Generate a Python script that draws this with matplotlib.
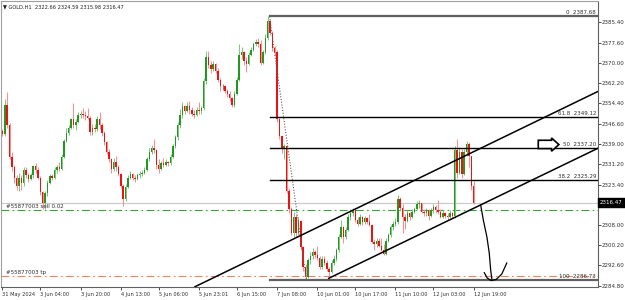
import matplotlib
matplotlib.use("Agg")
import matplotlib.pyplot as plt
from matplotlib import font_manager
from matplotlib.patches import Polygon
from matplotlib.transforms import blended_transform_factory

# MT4 uses a narrow small font, pick the narrowest face we have
faces = [(f.name, f.stretch) for f in font_manager.fontManager.ttflist]
font_name, font_stretch, fs = 'DejaVu Sans', 'normal', 3.7
for name, stretch in faces:
    if name == 'Liberation Sans Narrow':
        font_name, font_stretch, fs = name, 'normal', 5.0
        break
else:
    for name, stretch in faces:
        if name == 'DejaVu Sans' and stretch in ('condensed', 'semi-condensed', 600, 700, 625):
            font_name, font_stretch, fs = name, 'condensed', 4.1
            break
plt.rcParams['font.family'] = [font_name, 'DejaVu Sans']
plt.rcParams['font.stretch'] = font_stretch
fs_y = fs * 1.08

# GOLD H1 bars as they sit on the screen (index = bar number)
first_open = 2344.0
closes = [2342.8, 2354.0, 2346.0, 2334.0, 2330.0, 2326.0, 2323.0, 2326.0, 2324.0, 2329.0,
          2327.0, 2325.5, 2327.0, 2330.5, 2329.0, 2326.0, 2320.5, 2316.5, 2320.0, 2324.0,
          2326.5, 2326.0, 2329.0, 2330.0, 2329.5, 2334.0, 2340.0, 2343.0, 2345.0, 2348.5,
          2346.0, 2347.5, 2350.0, 2350.5, 2350.0, 2349.5, 2349.0, 2343.5, 2345.0, 2344.5,
          2348.5, 2346.0, 2343.0, 2339.5, 2336.0, 2333.0, 2329.5, 2332.0, 2330.0, 2327.5,
          2323.0, 2318.0, 2322.5, 2326.0, 2327.5, 2326.0, 2325.5, 2327.0, 2327.5, 2328.0,
          2329.0, 2333.0, 2336.0, 2337.5, 2336.5, 2331.0, 2329.5, 2331.5, 2331.0, 2332.0,
          2331.5, 2334.0, 2338.0, 2341.5, 2346.0, 2350.0, 2353.5, 2351.5, 2353.5, 2352.0,
          2350.5, 2350.0, 2352.0, 2351.5, 2352.5, 2363.0, 2372.0, 2369.0, 2367.5, 2369.5,
          2367.0, 2363.5, 2361.0, 2361.0, 2359.0, 2358.0, 2356.5, 2354.0, 2358.0, 2363.5,
          2373.0, 2374.0, 2370.5, 2369.5, 2373.0, 2375.0, 2377.0, 2378.0, 2377.0, 2370.0,
          2374.0, 2379.5, 2386.0, 2381.5, 2375.5, 2374.0, 2348.5, 2342.0, 2337.0, 2338.0,
          2321.0, 2314.0, 2305.0, 2311.0, 2305.0, 2309.5, 2299.5, 2292.0, 2288.0, 2294.5,
          2296.0, 2297.5, 2296.5, 2295.5, 2292.0, 2295.0, 2293.5, 2291.0, 2290.0, 2293.5,
          2295.0, 2298.5, 2303.5, 2307.0, 2303.5, 2306.0, 2311.0, 2312.5, 2313.5, 2310.0,
          2308.5, 2311.0, 2309.0, 2310.5, 2309.0, 2308.0, 2301.5, 2300.5, 2302.0, 2300.0,
          2298.5, 2297.0, 2302.0, 2304.0, 2307.0, 2308.5, 2309.0, 2318.0, 2314.5, 2311.0,
          2309.5, 2312.5, 2311.0, 2313.0, 2314.0, 2316.0, 2316.5, 2313.0, 2312.5, 2313.5,
          2311.5, 2313.5, 2315.0, 2313.5, 2313.0, 2311.0, 2312.5, 2311.5, 2311.0, 2312.5,
          2311.5, 2336.5, 2328.0, 2336.0, 2327.5, 2336.0, 2339.0, 2334.5, 2322.66, 2316.47]
highs = [2344.8, 2356.3, 2358.9, 2347.0, 2336.0, 2331.0, 2327.0, 2328.0, 2327.0, 2330.0,
         2330.0, 2328.0, 2328.0, 2331.0, 2331.5, 2330.0, 2326.5, 2321.0, 2321.0, 2325.0,
         2327.5, 2327.5, 2330.0, 2331.0, 2332.0, 2335.0, 2341.0, 2345.0, 2346.0, 2349.0,
         2354.4, 2348.5, 2351.0, 2351.5, 2352.5, 2351.5, 2352.5, 2349.5, 2346.5, 2346.5,
         2349.5, 2351.0, 2347.0, 2344.0, 2340.0, 2337.0, 2333.5, 2333.5, 2334.5, 2331.0,
         2328.0, 2323.5, 2323.5, 2327.0, 2328.5, 2328.0, 2327.0, 2328.0, 2328.5, 2329.0,
         2330.0, 2334.0, 2337.5, 2338.5, 2341.0, 2337.0, 2333.0, 2332.5, 2333.5, 2333.0,
         2332.5, 2335.0, 2339.0, 2342.5, 2347.4, 2352.4, 2355.0, 2354.0, 2355.0, 2355.5,
         2353.0, 2352.0, 2353.0, 2355.0, 2353.5, 2364.0, 2374.5, 2374.5, 2370.5, 2370.5,
         2370.0, 2368.0, 2364.0, 2362.0, 2361.5, 2360.0, 2359.0, 2357.0, 2359.0, 2364.5,
         2377.3, 2376.0, 2374.5, 2372.0, 2374.0, 2376.0, 2378.0, 2379.0, 2379.5, 2378.5,
         2375.0, 2381.0, 2387.68, 2386.5, 2382.0, 2376.5, 2375.0, 2349.0, 2342.0, 2339.0,
         2338.5, 2322.0, 2315.0, 2313.0, 2312.0, 2311.0, 2310.0, 2300.0, 2293.0, 2295.5,
         2297.5, 2299.0, 2298.5, 2300.0, 2296.0, 2296.0, 2296.0, 2294.5, 2292.0, 2294.5,
         2296.5, 2299.0, 2304.5, 2310.0, 2307.5, 2307.0, 2312.0, 2314.0, 2314.5, 2313.5,
         2311.0, 2312.0, 2311.5, 2311.5, 2311.0, 2312.0, 2308.5, 2302.5, 2303.0, 2303.0,
         2303.0, 2300.5, 2303.0, 2305.0, 2308.0, 2309.5, 2310.5, 2319.4, 2318.5, 2316.0,
         2312.0, 2313.5, 2313.0, 2314.0, 2315.0, 2317.0, 2317.6, 2316.5, 2314.0, 2314.5,
         2314.0, 2314.5, 2316.0, 2315.5, 2317.5, 2314.0, 2313.5, 2313.0, 2312.5, 2313.5,
         2313.0, 2338.0, 2341.0, 2337.5, 2337.0, 2337.0, 2340.0, 2339.5, 2334.5, 2324.59]
lows = [2342.0, 2342.0, 2345.0, 2333.0, 2328.5, 2324.0, 2321.5, 2321.0, 2321.5, 2323.0,
        2326.0, 2324.5, 2325.0, 2326.0, 2328.0, 2325.5, 2319.5, 2314.1, 2314.0, 2319.0,
        2323.5, 2325.0, 2325.5, 2328.0, 2328.5, 2329.0, 2333.5, 2339.5, 2342.5, 2344.5,
        2345.0, 2344.3, 2347.0, 2349.0, 2349.0, 2348.0, 2348.5, 2342.5, 2342.5, 2343.5,
        2344.0, 2344.5, 2342.0, 2338.5, 2335.0, 2332.0, 2328.0, 2328.5, 2328.5, 2326.5,
        2322.0, 2315.3, 2317.0, 2322.0, 2325.5, 2325.0, 2324.5, 2325.0, 2326.0, 2326.5,
        2327.5, 2328.5, 2332.5, 2335.0, 2335.5, 2329.5, 2328.0, 2329.0, 2330.0, 2330.5,
        2330.5, 2331.0, 2333.5, 2337.5, 2340.5, 2345.0, 2349.0, 2350.5, 2351.0, 2350.5,
        2349.5, 2349.0, 2349.5, 2350.5, 2350.5, 2352.0, 2362.0, 2368.0, 2366.0, 2367.0,
        2366.0, 2362.5, 2359.0, 2359.5, 2358.5, 2357.0, 2355.5, 2353.0, 2353.0, 2357.5,
        2363.0, 2371.5, 2369.0, 2366.5, 2369.0, 2372.5, 2374.5, 2376.5, 2376.0, 2369.0,
        2369.5, 2373.5, 2378.5, 2380.5, 2374.5, 2372.5, 2347.5, 2341.0, 2335.5, 2333.0,
        2320.0, 2312.5, 2304.0, 2303.5, 2303.5, 2304.0, 2298.5, 2290.5, 2286.73, 2287.5,
        2293.0, 2295.0, 2295.5, 2294.5, 2291.0, 2291.0, 2292.5, 2290.5, 2287.6, 2289.5,
        2292.5, 2294.0, 2297.5, 2303.0, 2301.0, 2302.5, 2305.5, 2310.0, 2311.5, 2309.0,
        2307.5, 2308.0, 2308.0, 2308.5, 2308.5, 2307.5, 2301.0, 2298.5, 2299.5, 2299.5,
        2298.0, 2296.5, 2296.5, 2301.5, 2303.5, 2306.0, 2307.5, 2308.5, 2313.5, 2305.0,
        2306.5, 2309.0, 2310.0, 2310.5, 2312.5, 2313.5, 2314.5, 2312.5, 2311.5, 2311.5,
        2310.0, 2311.0, 2312.5, 2312.5, 2312.0, 2310.5, 2310.5, 2310.5, 2310.0, 2310.5,
        2310.5, 2310.5, 2326.0, 2327.5, 2326.0, 2327.0, 2334.5, 2330.0, 2321.5, 2315.98]

time_ticks = [0, 16, 33, 50, 66, 83, 99, 116, 133, 149, 166, 182, 199]
time_labels = ["31 May 2024", "3 Jun 04:00", "3 Jun 20:00", "4 Jun 13:00", "5 Jun 06:00",
               "5 Jun 23:01", "6 Jun 15:00", "7 Jun 08:00", "10 Jun 01:00", "10 Jun 17:00",
               "11 Jun 10:00", "12 Jun 03:00", "12 Jun 19:00"]
price_ticks = [2385.40, 2377.60, 2370.00, 2362.20, 2354.40, 2346.60, 2339.00,
               2331.20, 2323.40, 2308.00, 2300.20, 2292.60, 2284.80]

# fibonacci retracement (bar index of the swing high, levels and their prices)
fib_start = 112.8
fib_levels = ["0", "61.8", "50", "38.2", "100"]
fib_prices = [2387.68, 2349.12, 2337.20, 2325.29, 2286.73]
fib_swing = [(112.8, 2387.68), (128.4, 2286.73)]

# channel trend lines (index, price)
channel_upper = [(125.8, 2303.85), (235.5, 2351.98)]
channel_lower = [(137.8, 2287.55), (251.5, 2337.28)]

# hand drawn projection and arrow object
sketch_drop = [(202.0, 2315.5), (203.1, 2309.8), (204.6, 2303.4), (205.6, 2297.2),
               (206.2, 2290.7), (206.7, 2287.3)]
sketch_cup = [(203.5, 2289.7), (204.7, 2287.7), (206.4, 2286.7), (208.5, 2287.1),
              (210.9, 2289.2), (213.0, 2293.4)]
arrow_pts = [(226.3, 2340.33), (231.9, 2340.33), (231.9, 2341.21), (235.0, 2338.69),
             (231.9, 2336.14), (231.9, 2337.17), (226.3, 2337.17)]

sell_price = 2313.6
tp_price = 2288.5
bid = 2316.47
title = "\u25bc GOLD.H1  2322.66 2324.59 2315.98 2316.47"

fig = plt.figure(figsize=(6.25, 3.0), dpi=100)
ax = fig.add_axes([0.0015, 0.0443, 0.9552, 0.954])
ax.set_xlim(-0.63, 251.5)
ax.set_ylim(2284.34, 2393.77)

# candles
opens = [first_open] + closes[:-1]
idx = list(range(len(closes)))
for i in idx:
    o, c = opens[i], closes[i]
    if c > o:
        body, wick = '#1f9a1f', '#7cc47c'
    elif c < o:
        body, wick = '#f01010', '#ff8a8a'
    else:
        body, wick = '#404040', '#808080'
    ax.vlines(i, lows[i], highs[i], colors=wick, lw=0.7, zorder=2)
    h = abs(c - o) if c != o else 0.25
    ax.bar(i, h, bottom=min(o, c), width=0.62, color=body, lw=0, zorder=3)

blend = blended_transform_factory(ax.transAxes, ax.transData)

# order lines and bid line
ax.axhline(bid, color='#c8c8c8', lw=0.8, zorder=1)
ax.axhline(sell_price, color='#3aa03a', lw=0.8, ls=(0, (7, 3, 1.5, 3)), zorder=1)
ax.axhline(tp_price, color='#f08060', lw=0.8, ls=(0, (7, 3, 1.5, 3)), zorder=1)
ax.text(0.008, sell_price + 0.5, "#55877003 sell 0.02", fontsize=fs_y, color='#303030',
        transform=blend, va='bottom')
ax.text(0.008, tp_price + 0.5, "#55877003 tp", fontsize=fs_y, color='#303030',
        transform=blend, va='bottom')

# fibonacci
x_end = ax.get_xlim()[1]
for lev, p in zip(fib_levels, fib_prices):
    edge = '#606060' if lev in ("0", "100") else 'black'
    width = 1.6 if lev in ("0", "100") else 1.0
    ax.plot([fib_start, x_end], [p, p], color=edge, lw=width, zorder=4)
    ax.text(0.997, p + 0.4, lev + "  " + "%.2f" % p, fontsize=fs_y, color='#303030',
            ha='right', va='bottom', zorder=5, transform=blend)
ax.plot([fib_swing[0][0], fib_swing[1][0]], [fib_swing[0][1], fib_swing[1][1]],
        color='#606060', lw=0.8, ls=(0, (1, 1.5)), zorder=4)

# channel
ax.axline(channel_upper[0], channel_upper[1], color='black', lw=1.1, zorder=4)
slope = (channel_lower[1][1] - channel_lower[0][1]) / (channel_lower[1][0] - channel_lower[0][0])
ax.plot([channel_lower[0][0], x_end],
        [channel_lower[0][1], channel_lower[0][1] + slope * (x_end - channel_lower[0][0])],
        color='black', lw=1.1, zorder=4)

ax.plot(*zip(*sketch_drop), color='black', lw=0.9, zorder=4)
ax.plot(*zip(*sketch_cup), color='black', lw=0.9, zorder=4)
ax.add_patch(Polygon(arrow_pts, closed=True, facecolor='white', edgecolor='black', lw=1.2, zorder=5))

ax.text(0.004, 0.978, title, transform=ax.transAxes, fontsize=fs, color='#202020', va='center')

# axes styling
ax.set_facecolor('white')
ax.spines['left'].set_color('#a0a0a0')
ax.spines['top'].set_color('#a0a0a0')
ax.spines['right'].set_color('#606060')
ax.spines['bottom'].set_color('#606060')
for s in ax.spines.values():
    s.set_linewidth(0.8)

ax.yaxis.tick_right()
ax.set_yticks(price_ticks)
ax.set_yticklabels(["%.2f" % p for p in price_ticks])
ax.tick_params(axis='y', direction='out', length=2, width=0.6, pad=1,
               labelsize=fs_y, colors='#303030')
ax.set_xticks(time_ticks)
ax.set_xticklabels(time_labels, ha='left')
ax.tick_params(axis='x', direction='out', length=2.5, width=0.6, pad=1.5,
               labelsize=fs, colors='#303030')

ax.text(1.003, bid, "%.2f" % bid, fontsize=fs_y, color='white', va='center', ha='left',
        transform=blend,
        bbox=dict(boxstyle='square,pad=0.35', facecolor='black', edgecolor='black'))

fig.savefig('out.png', dpi=100)
